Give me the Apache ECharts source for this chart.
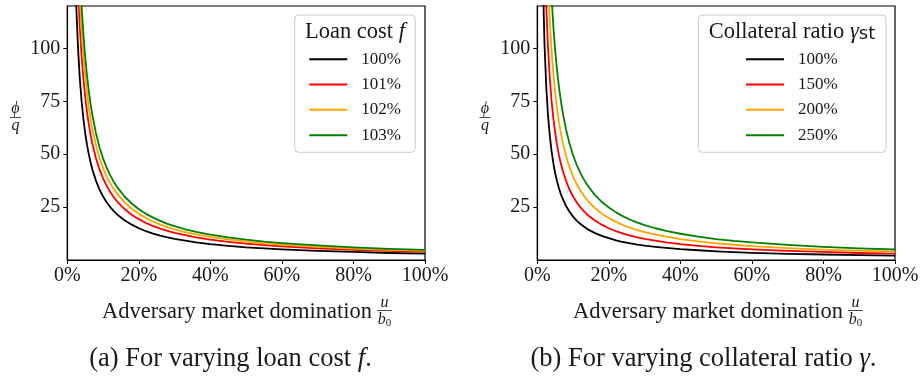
<!DOCTYPE html>
<html><head><meta charset="utf-8">
<script src="https://cdn.jsdelivr.net/npm/echarts@6/dist/echarts.min.js"></script>
<style>html,body{margin:0;padding:0;background:#fff}#c{width:923px;height:381px}</style>
</head><body><div id="c"></div>
<script>
// x: adversary market domination u/b0, in percent
const xPct = [1.5, 2, 2.5, 3, 3.5, 4, 4.5, 5, 5.5, 6, 6.5, 7, 8, 9, 10, 11, 12, 13, 14, 16, 18, 20, 22, 24, 26, 28, 30, 33, 36, 40, 45, 50, 55, 60, 70, 80, 90, 100];
const xTicks = [0, 20, 40, 60, 80, 100];
const yTicks = [25, 50, 75, 100];

// (a) varying loan cost f
const loanNames = ['100%', '101%', '102%', '103%'];
const loan100 = [200, 150, 120, 100, 85.7, 75, 66.7, 60, 54.5, 50, 46.2, 42.9, 37.5, 33.3, 30, 27.3, 25, 23.1, 21.4, 18.8, 16.7, 15, 13.6, 12.5, 11.5, 10.7, 10, 9.1, 8.3, 7.5, 6.7, 6, 5.5, 5, 4.3, 3.8, 3.3, 3.0];
const loan101 = [256.7, 192.5, 154, 128.3, 110, 96.3, 85.6, 77, 70, 64.2, 59.2, 55, 48.1, 42.8, 38.5, 35, 32.1, 29.6, 27.5, 24.1, 21.4, 19.3, 17.5, 16, 14.8, 13.8, 12.8, 11.7, 10.7, 9.6, 8.6, 7.7, 7, 6.4, 5.5, 4.8, 4.3, 3.85];
const loan102 = [290, 217.5, 174, 145, 124.3, 108.8, 96.7, 87, 79.1, 72.5, 66.9, 62.1, 54.4, 48.3, 43.5, 39.5, 36.3, 33.5, 31.1, 27.2, 24.2, 21.8, 19.8, 18.1, 16.7, 15.5, 14.5, 13.2, 12.1, 10.9, 9.7, 8.7, 7.9, 7.3, 6.2, 5.4, 4.8, 4.35];
const loan103 = [320, 240, 192, 160, 137.1, 120, 106.7, 96, 87.3, 80, 73.8, 68.6, 60, 53.3, 48, 43.6, 40, 36.9, 34.3, 30, 26.7, 24, 21.8, 20, 18.5, 17.1, 16, 14.5, 13.3, 12, 10.7, 9.6, 8.7, 8, 6.9, 6, 5.3, 4.8];

// (b) varying collateral ratio gamma
const collNames = ['100%', '150%', '200%', '250%'];
const coll100 = [136.7, 102.5, 82, 68.3, 58.6, 51.3, 45.6, 41, 37.3, 34.2, 31.5, 29.3, 25.6, 22.8, 20.5, 18.6, 17.1, 15.8, 14.6, 12.8, 11.4, 10.3, 9.3, 8.5, 7.9, 7.3, 6.8, 6.2, 5.7, 5.1, 4.6, 4.1, 3.7, 3.4, 2.9, 2.6, 2.3, 2.05];
const coll150 = [200, 150, 120, 100, 85.7, 75, 66.7, 60, 54.5, 50, 46.2, 42.9, 37.5, 33.3, 30, 27.3, 25, 23.1, 21.4, 18.8, 16.7, 15, 13.6, 12.5, 11.5, 10.7, 10, 9.1, 8.3, 7.5, 6.7, 6, 5.5, 5, 4.3, 3.8, 3.3, 3.0];
const coll200 = [263.3, 197.5, 158, 131.7, 112.9, 98.8, 87.8, 79, 71.8, 65.8, 60.8, 56.4, 49.4, 43.9, 39.5, 35.9, 32.9, 30.4, 28.2, 24.7, 21.9, 19.8, 18, 16.5, 15.2, 14.1, 13.2, 12, 11, 9.9, 8.8, 7.9, 7.2, 6.6, 5.6, 4.9, 4.4, 3.95];
const coll250 = [330, 247.5, 198, 165, 141.4, 123.8, 110, 99, 90, 82.5, 76.2, 70.7, 61.9, 55, 49.5, 45, 41.3, 38.1, 35.4, 30.9, 27.5, 24.8, 22.5, 20.6, 19, 17.7, 16.5, 15, 13.8, 12.4, 11, 9.9, 9, 8.3, 7.1, 6.2, 5.5, 4.95];

const colors = ['#000000', '#ff0000', '#ffa500', '#008000'];
const FONT = 'Liberation Serif';
const TXT = '#1a1a1a';

const chart = echarts.init(document.getElementById('c'), null, {renderer: 'canvas'});

const grids = [
  {left: 67.3, top: 6, width: 357.7, height: 254},
  {left: 537.3, top: 6, width: 357.7, height: 254}
];

function xAx(gi) {
  return {
    type: 'value', gridIndex: gi, min: 0, max: 100, interval: 20,
    axisLine: {show: true, onZero: false, lineStyle: {color: '#000', width: 1.2}},
    axisTick: {show: true, inside: false, length: 4, customValues: xTicks, lineStyle: {color: '#000', width: 1}},
    axisLabel: {customValues: xTicks, formatter: '{value}%', margin: 6, fontFamily: FONT, fontSize: 20, color: TXT},
    splitLine: {show: false}
  };
}
function yAx(gi) {
  return {
    type: 'value', gridIndex: gi, min: 0, max: 120, interval: 25,
    axisLine: {show: true, onZero: false, lineStyle: {color: '#000', width: 1.2}},
    axisTick: {show: true, inside: false, length: 4, customValues: yTicks, lineStyle: {color: '#000', width: 1}},
    axisLabel: {customValues: yTicks, formatter: function (v) { return (v === 0 || v === 120) ? '' : String(v); },
      margin: 7, fontFamily: FONT, fontSize: 20, color: TXT},
    splitLine: {show: false}
  };
}

function mkSeries(names, arrs, gi) {
  return arrs.map(function (arr, i) {
    return {
      name: names[i], type: 'line', xAxisIndex: gi, yAxisIndex: gi,
      data: xPct.map(function (x, k) { return [x, arr[k]]; }),
      symbol: 'none', showSymbol: false, smooth: false, clip: true,
      lineStyle: {width: 1.8, color: colors[i], join: 'round'}, itemStyle: {color: colors[i]},
      z: 2 + i, animation: false
    };
  });
}

const series = mkSeries(loanNames, [loan100, loan101, loan102, loan103], 0)
  .concat(mkSeries(collNames, [coll100, coll150, coll200, coll250], 1));

function legendCfg(names, left) {
  return {
    data: names, orient: 'vertical', left: left, top: 46.6, padding: 0,
    itemWidth: 38, itemHeight: 2, itemGap: 0, icon: 'rect', selectedMode: false,
    textStyle: {fontFamily: FONT, fontSize: 17, color: TXT, lineHeight: 25.3, padding: [0, 0, 0, 9]}
  };
}

// measure helper
const mctx = document.createElement('canvas').getContext('2d');
function textW(str, size, fam, style) {
  mctx.font = (style || '') + ' ' + size + 'px "' + fam + '"';
  return mctx.measureText(str).width;
}

const XLABEL = 'Adversary market domination';
const XL_SIZE = 22.5;
function xLabelGraphics(cx) {
  const w = textW(XLABEL, XL_SIZE, FONT);
  const fracW = 15, gap = 5;
  const total = w + gap + fracW;
  const x0 = cx - total / 2;
  const fx = x0 + w + gap + fracW / 2;
  return [
    {type: 'text', x: x0, y: 312, style: {text: XLABEL, fontFamily: FONT, fontSize: XL_SIZE, fill: TXT, textAlign: 'left', align: 'left', textVerticalAlign: 'middle', verticalAlign: 'middle'}},
    {type: 'text', x: fx, y: 303, style: {text: 'u', fontFamily: FONT, fontStyle: 'italic', fontSize: 16, fill: TXT, textAlign: 'center', align: 'center', textVerticalAlign: 'middle', verticalAlign: 'middle'}},
    {type: 'line', shape: {x1: fx - 7.5, y1: 310.5, x2: fx + 7.5, y2: 310.5}, style: {stroke: TXT, lineWidth: 0.8}},
    {type: 'text', x: fx, y: 320, style: {text: '{b|b}{s|0}', rich: {b: {fontFamily: FONT, fontStyle: 'italic', fontSize: 16, fill: TXT}, s: {fontFamily: FONT, fontSize: 11, fill: TXT, padding: [6, 0, 0, 0]}}, textAlign: 'center', align: 'center', textVerticalAlign: 'middle', verticalAlign: 'middle'}}
  ];
}
function yLabelGraphics(cx) {
  return [
    {type: 'text', x: cx, y: 109, style: {text: 'ϕ', fontFamily: FONT, fontStyle: 'italic', fontSize: 16, fill: TXT, textAlign: 'center', align: 'center', textVerticalAlign: 'middle', verticalAlign: 'middle'}},
    {type: 'line', shape: {x1: cx - 5.5, y1: 117.5, x2: cx + 5.5, y2: 117.5}, style: {stroke: TXT, lineWidth: 0.8}},
    {type: 'text', x: cx, y: 126, style: {text: 'q', fontFamily: FONT, fontStyle: 'italic', fontSize: 16, fill: TXT, textAlign: 'center', align: 'center', textVerticalAlign: 'middle', verticalAlign: 'middle'}}
  ];
}
function legendBox(x, w) {
  return {type: 'rect', shape: {x: x, y: 15, width: w, height: 137.3, r: 4}, style: {fill: 'rgba(255,255,255,0.85)', stroke: '#cccccc', lineWidth: 1}, z: 1};
}

const CAP = 26.5;
const graphics = [
  legendBox(294.7, 120.6),
  legendBox(698.3, 187.7),
  {type: 'text', x: 355, y: 32.5, z: 5, style: {text: '{a|Loan cost }{i|f}', rich: {a: {fontFamily: FONT, fontSize: 22.5, fill: TXT}, i: {fontFamily: FONT, fontStyle: 'italic', fontSize: 22.5, fill: TXT}}, textAlign: 'center', align: 'center', textVerticalAlign: 'middle', verticalAlign: 'middle'}},
  {type: 'text', x: 792, y: 32.5, z: 5, style: {text: '{a|Collateral ratio }{g|γ}{s|st}', rich: {a: {fontFamily: FONT, fontSize: 22.5, fill: TXT}, g: {fontFamily: FONT, fontStyle: 'italic', fontSize: 22.5, fill: TXT}, s: {fontFamily: 'DejaVu Sans', fontSize: 18, fill: TXT, padding: [4, 0, 0, 0]}}, textAlign: 'center', align: 'center', textVerticalAlign: 'middle', verticalAlign: 'middle'}},
  {type: 'text', x: 230.5, y: 359, style: {text: '{a|(a) For varying loan cost }{i|f}{a|.}', rich: {a: {fontFamily: FONT, fontSize: CAP, fill: TXT}, i: {fontFamily: FONT, fontStyle: 'italic', fontSize: CAP, fill: TXT}}, textAlign: 'center', align: 'center', textVerticalAlign: 'middle', verticalAlign: 'middle'}},
  {type: 'text', x: 703.5, y: 359, style: {text: '{a|(b) For varying collateral ratio }{i|γ}{a|.}', rich: {a: {fontFamily: FONT, fontSize: CAP, fill: TXT}, i: {fontFamily: FONT, fontStyle: 'italic', fontSize: CAP, fill: TXT}}, textAlign: 'center', align: 'center', textVerticalAlign: 'middle', verticalAlign: 'middle'}}
].concat(xLabelGraphics(247), xLabelGraphics(718), yLabelGraphics(15.5), yLabelGraphics(485));

chart.setOption({
  animation: false,
  backgroundColor: '#ffffff',
  grid: grids.map(function (g) { return Object.assign({show: true, borderColor: '#000', borderWidth: 1.2, backgroundColor: 'transparent'}, g); }),
  xAxis: [xAx(0), xAx(1)],
  yAxis: [yAx(0), yAx(1)],
  legend: [legendCfg(loanNames, 309.3), legendCfg(collNames, 746)],
  series: series,
  graphic: graphics
});
</script>
</body></html>
